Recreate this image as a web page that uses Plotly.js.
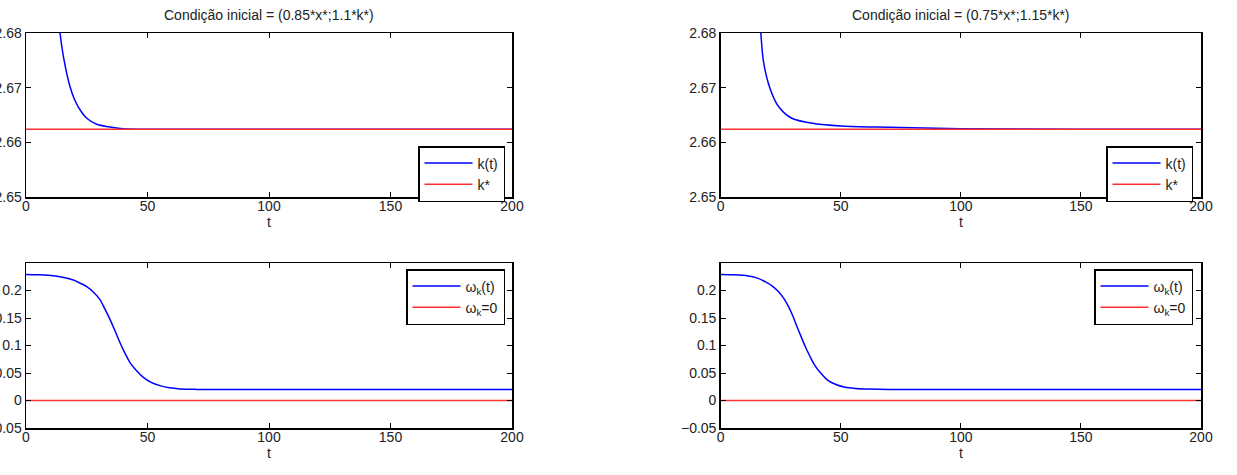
<!DOCTYPE html>
<html>
<head>
<meta charset="utf-8">
<script src="https://cdn.plot.ly/plotly-3.0.1.min.js"></script>
<style>html,body{margin:0;padding:0;background:#fff;}#chart{width:1237px;height:475px;}</style>
</head>
<body>
<div id="chart"></div>
<script>
// ---- data ----
const titles = ["Condição inicial = (0.85*x*;1.1*k*)", "Condição inicial = (0.75*x*;1.15*k*)"];
const kStar = 2.6624;
const tRef = [0, 200];

const tK1 = [0, 2, 5, 8, 10, 12, 14, 15.4, 18.1, 20, 22.9, 25, 29.1, 35.9, 40, 50, 60, 80, 100, 150, 200];
const k1  = [2.9285, 2.85, 2.77, 2.72, 2.701, 2.689, 2.6800, 2.6757, 2.6702, 2.6678, 2.6655, 2.6644, 2.6633, 2.6627, 2.6625, 2.6624, 2.6624, 2.6624, 2.6624, 2.6624, 2.6624];

const tK2 = [0, 3, 6, 9, 12, 14.5, 16.7, 17.8, 20.5, 24, 29.6, 39.3, 50, 64.3, 75, 100, 150, 200];
const k2  = [3.0618, 2.93, 2.83, 2.76, 2.715, 2.693, 2.680, 2.6748, 2.6699, 2.6666, 2.6644, 2.6634, 2.6630, 2.6628, 2.6627, 2.6625, 2.6624, 2.6624];

const tW1 = [0, 5, 11.2, 15, 19.5, 22, 25, 28, 30.5, 32.5, 34.6, 36.7, 38.7, 40.7, 42.8, 45.5, 48.3, 51.5, 55.1, 59, 63.4, 70, 80, 100, 150, 200];
const w1  = [0.229, 0.2285, 0.227, 0.224, 0.219, 0.214, 0.207, 0.196, 0.183, 0.166, 0.147, 0.126, 0.105, 0.086, 0.069, 0.054, 0.042, 0.033, 0.027, 0.023, 0.021, 0.0202, 0.020, 0.020, 0.020, 0.020];

const tW2 = [0, 5, 11.5, 15, 18.5, 21.5, 24, 26.2, 28.2, 30, 31.7, 33.4, 35.1, 37.2, 39.3, 42, 44.8, 48, 51.8, 56, 61.5, 70, 80, 100, 150, 200];
const w2  = [0.229, 0.2285, 0.2265, 0.223, 0.216, 0.208, 0.198, 0.186, 0.171, 0.154, 0.135, 0.117, 0.099, 0.080, 0.063, 0.048, 0.036, 0.029, 0.024, 0.022, 0.021, 0.0202, 0.020, 0.020, 0.020, 0.020];

const xTicks = [0, 50, 100, 150, 200];
const kTicks = [2.65, 2.66, 2.67, 2.68];
const wTicks = [-0.05, 0, 0.05, 0.1, 0.15, 0.2];
const names = {k: "k(t)", kS: "k*", w: "ω<sub>k</sub>(t)", w0: "ω<sub>k</sub>=0"};

// ---- styling ----
const BLUE = "#0000ff", RED = "#ff3030";
const FONT = {family: "Liberation Sans, Arial, sans-serif", size: 14, color: "#222"};
const TFONT = {family: "Liberation Sans, Arial, sans-serif", size: 14, color: "#222"};
const lw = 1.5;

function line(x, y, color, name, xa, ya, leg, sp) {
  return {x: x, y: y, type: "scatter", mode: "lines", name: name,
    line: {color: color, width: lw, shape: sp ? "spline" : "linear", smoothing: 0.8},
    xaxis: xa, yaxis: ya, legend: leg, showlegend: true};
}
const zeroW = [0, 0];
const kRef = [kStar, kStar];

const traces = [
  line(tK1, k1, BLUE, names.k, "x", "y", "legend", true),
  line(tRef, kRef, RED, names.kS, "x", "y", "legend", false),
  line(tW1, w1, BLUE, names.w, "x2", "y2", "legend2", true),
  line(tRef, zeroW, RED, names.w0, "x2", "y2", "legend2", false),
  line(tK2, k2, BLUE, names.k, "x3", "y3", "legend3", true),
  line(tRef, kRef, RED, names.kS, "x3", "y3", "legend3", false),
  line(tW2, w2, BLUE, names.w, "x4", "y4", "legend4", true),
  line(tRef, zeroW, RED, names.w0, "x4", "y4", "legend4", false)
];

const W = 1237, H = 475;
const xL = [26 / W, 512 / W], xR = [720.7 / W, 1201 / W];
const yT = [1 - 197 / H, 1 - 33 / H], yB = [1 - 428 / H, 1 - 263 / H];

function xax(dom, anchor) {
  return {domain: dom, anchor: anchor, range: [0, 200], tickvals: xTicks,
    ticks: "inside", ticklen: 5, tickwidth: 1, tickcolor: "#000",
    showline: true, linecolor: "#000", linewidth: 1.5, mirror: "ticks",
    showgrid: false, zeroline: false, tickfont: FONT, ticklabelstandoff: -4,
    title: {text: "t", font: FONT, standoff: 0}};
}
function yax(dom, anchor, range, ticks) {
  return {domain: dom, anchor: anchor, range: range, tickvals: ticks,
    ticks: "inside", ticklen: 5, tickwidth: 1, tickcolor: "#000",
    showline: true, linecolor: "#000", linewidth: 1.5, mirror: "ticks",
    showgrid: false, zeroline: false, tickfont: FONT, ticklabelstandoff: 0};
}
function leg(x, y) {
  return {x: x, y: y, xanchor: "right", yanchor: "top", bgcolor: "#fff",
    bordercolor: "#000", borderwidth: 1.5, font: FONT, tracegroupgap: 0, itemwidth: 48};
}

const layout = {
  width: W, height: H, margin: {l: 0, r: 0, t: 0, b: 0},
  paper_bgcolor: "#fff", plot_bgcolor: "#fff", font: FONT,
  xaxis: xax(xL, "y"), yaxis: yax(yT, "x", [2.65, 2.68], kTicks),
  xaxis2: xax(xL, "y2"), yaxis2: yax(yB, "x2", [-0.05, 0.25], wTicks),
  xaxis3: xax(xR, "y3"), yaxis3: yax(yT, "x3", [2.65, 2.68], kTicks),
  xaxis4: xax(xR, "y4"), yaxis4: yax(yB, "x4", [-0.05, 0.25], wTicks),
  legend: leg(505 / W, 1 - 146 / H),
  legend2: leg(505 / W, 1 - 269 / H),
  legend3: leg(1193 / W, 1 - 146 / H),
  legend4: leg(1193 / W, 1 - 269 / H),
  annotations: [
    {text: titles[0], x: (xL[0] + xL[1]) / 2, y: 1 - 15 / H, xref: "paper", yref: "paper",
     xanchor: "center", yanchor: "middle", showarrow: false, font: TFONT},
    {text: titles[1], x: (xR[0] + xR[1]) / 2, y: 1 - 15 / H, xref: "paper", yref: "paper",
     xanchor: "center", yanchor: "middle", showarrow: false, font: TFONT}
  ],
  showlegend: true
};

Plotly.newPlot("chart", traces, layout, {staticPlot: true, displayModeBar: false});
</script>
</body>
</html>
